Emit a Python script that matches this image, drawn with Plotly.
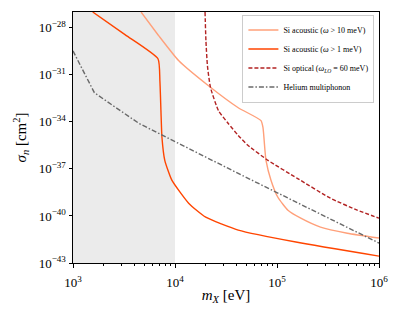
import numpy as np
import plotly.graph_objects as go

# ---- data ----
shade_x = [1e3, 1e4]
shade_y = [1e-43, 1e-27]

acou10_mass = [4.65e3, 6.95e3, 1.09e4, 2.13e4, 4.17e4, 6.97e4, 7.29e4, 7.62e4,
               7.80e4, 8.73e4, 1.02e5, 1.28e5, 1.71e5, 2.67e5, 4.89e5, 1.0e6]
acou10_sigma = [1.0e-27, 3.0e-29, 7.8e-31, 2.0e-32, 7.9e-34, 1.2e-34, 4.3e-35, 1.5e-36,
                3.5e-37, 1.9e-38, 1.55e-39, 2.3e-40, 7.2e-41, 1.95e-41, 7.9e-42, 3.9e-42]

acou1_mass = [1.56e3, 3.26e3, 6.81e3, 7.11e3, 7.28e3, 7.45e3, 7.94e3, 9.31e3,
              1.36e4, 2.0e4, 4.17e4, 1.58e5, 1.0e6]
acou1_sigma = [1.0e-27, 3.5e-29, 1.05e-30, 4.2e-32, 5.1e-34, 1.0e-35, 3.5e-37, 1.9e-38,
               6.5e-40, 8.3e-41, 1.26e-41, 2.1e-42, 2.75e-43]

opt_mass = [1.97e4, 2.01e4, 2.08e4, 2.23e4, 2.67e4, 3.33e4, 4.17e4, 5.21e4,
            8.15e4, 1.58e5, 3.34e5, 6.11e5, 1.0e6]
opt_sigma = [1.0e-27, 1.45e-29, 3.7e-31, 1.5e-32, 5.1e-34, 7.8e-35, 1.35e-35, 3.1e-36,
             3.5e-37, 2.5e-38, 1.35e-39, 2.35e-40, 7.2e-41]

he_mass = [1.0e3, 1.62e3, 2.38e3, 4.45e3, 4.17e4, 1.58e5, 1.0e6]
he_sigma = [3.3e-30, 7.2e-33, 1.26e-33, 7.8e-35, 5.1e-38, 7.4e-40, 1.86e-42]

series_names = ["Si acoustic (<i>ω</i> > 10 meV)",
                "Si acoustic (<i>ω</i> > 1 meV)",
                "Si optical (<i>ω</i><sub><i>LO</i></sub> = 60 meV)",
                "Helium multiphonon"]

x_tickvals = [1e3, 1e4, 1e5, 1e6]
x_ticktext = ["10<sup>3</sup>", "10<sup>4</sup>", "10<sup>5</sup>", "10<sup>6</sup>"]
y_tickvals = [1e-28, 1e-31, 1e-34, 1e-37, 1e-40, 1e-43]
y_ticktext = ["10<sup>−28</sup>", "10<sup>−31</sup>", "10<sup>−34</sup>",
              "10<sup>−37</sup>", "10<sup>−40</sup>", "10<sup>−43</sup>"]
x_minor = [m * 10 ** e for e in (3, 4, 5) for m in range(2, 10)]

FONT = "Liberation Serif"

fig = go.Figure()
fig.add_trace(go.Scatter(
    x=[shade_x[0], shade_x[1], shade_x[1], shade_x[0], shade_x[0]],
    y=[shade_y[0], shade_y[0], shade_y[1], shade_y[1], shade_y[0]],
    fill="toself", fillcolor="#ebebeb", line=dict(width=0),
    mode="lines", showlegend=False, hoverinfo="skip"))

fig.add_trace(go.Scatter(x=acou10_mass, y=acou10_sigma, mode="lines",
                         name=series_names[0],
                         line=dict(color="#ffa07a", width=1.4, shape="spline", smoothing=0.5)))
fig.add_trace(go.Scatter(x=acou1_mass, y=acou1_sigma, mode="lines",
                         name=series_names[1],
                         line=dict(color="#ff4500", width=1.4, shape="spline", smoothing=0.5)))
fig.add_trace(go.Scatter(x=opt_mass, y=opt_sigma, mode="lines",
                         name=series_names[2],
                         line=dict(color="#b22222", width=1.4, dash="4px,2px",
                                   shape="spline", smoothing=0.5)))
fig.add_trace(go.Scatter(x=he_mass, y=he_sigma, mode="lines",
                         name=series_names[3],
                         line=dict(color="#696969", width=1.4, dash="5px,2px,1.5px,2px")))

# the page body adds an 8px offset; margins compensate for it
fig.update_layout(
    width=383, height=307,
    margin=dict(l=65, r=9, t=3, b=52),
    paper_bgcolor="white", plot_bgcolor="white",
    font=dict(family=FONT, color="black", size=12),
    legend=dict(x=0.985, y=0.99, xanchor="right", yanchor="top",
                bgcolor="rgba(255,255,255,0.85)", bordercolor="#cccccc", borderwidth=1,
                font=dict(family=FONT, size=8), tracegroupgap=0,
                itemwidth=30),
)
fig.update_xaxes(type="log", range=[3, 6], showgrid=False, zeroline=False,
                 showline=True, linecolor="black", linewidth=1, mirror=True,
                 tickmode="array", tickvals=x_tickvals, ticktext=x_ticktext,
                 ticks="outside", ticklen=3.5, tickcolor="black",
                 tickfont=dict(family=FONT, size=13), ticklabelstandoff=4,
                 ticklabeloverflow="allow",
                 minor=dict(tickmode="array", tickvals=x_minor, ticks="outside",
                            ticklen=2, tickcolor="black", showgrid=False),
                 title=dict(text="<i>m</i><sub><i>X</i></sub> [eV]",
                            font=dict(family=FONT, size=15), standoff=0))
fig.update_yaxes(type="log", range=[-43, -27], showgrid=False, zeroline=False,
                 showline=True, linecolor="black", linewidth=1, mirror=True,
                 tickmode="array", tickvals=y_tickvals, ticktext=y_ticktext,
                 ticks="outside", ticklen=3.5, tickcolor="black",
                 tickfont=dict(family=FONT, size=13),
                 title=dict(text="<i>σ<sub>n</sub></i> [cm<sup>2</sup>]",
                            font=dict(family=FONT, size=15), standoff=8))

fig.write_html("out.html")
